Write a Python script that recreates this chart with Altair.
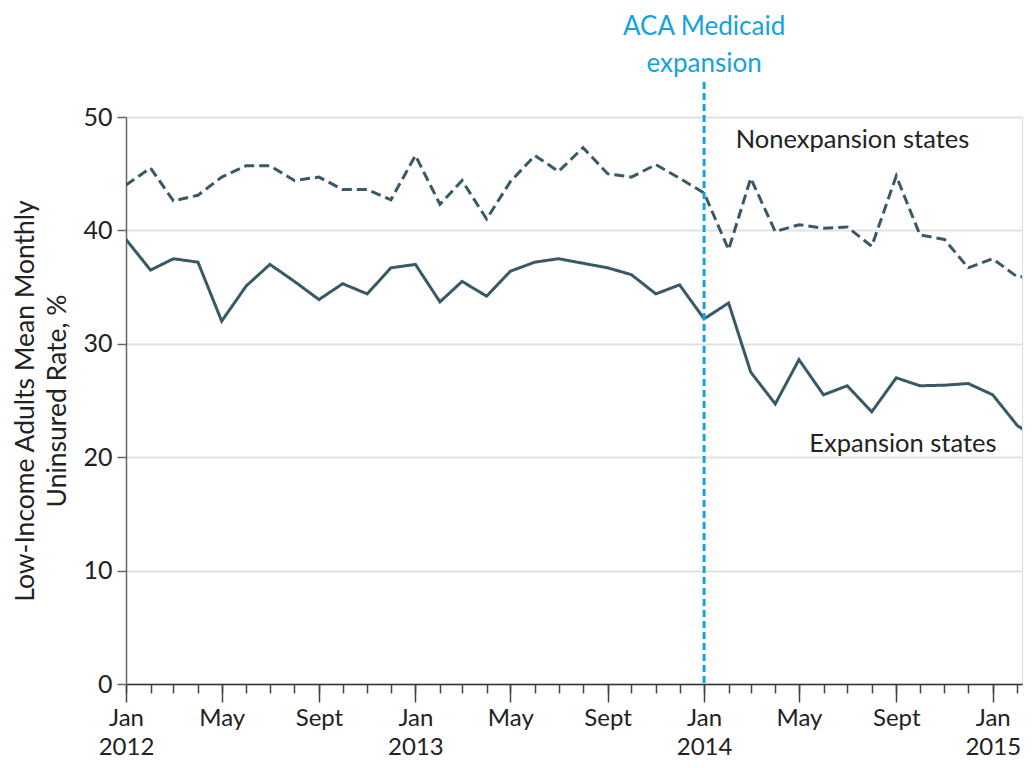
import altair as alt
import pandas as pd

# ---- data ----
months = [f"{y}-{m:02d}-01" for y in (2012, 2013, 2014, 2015) for m in range(1, 13)][:39]

nonexpansion = [44.0, 45.5, 42.6, 43.1, 44.7, 45.7, 45.7, 44.4, 44.7, 43.6, 43.6, 42.7,
                46.6, 42.3, 44.4, 41.0, 44.3, 46.6, 45.2, 47.3, 45.0, 44.7, 45.8, 44.6,
                43.3, 38.3, 44.6, 39.9, 40.5, 40.2, 40.3, 38.6, 44.8, 39.6, 39.2, 36.7,
                37.5, 35.9, 36.0]
expansion = [39.2, 36.5, 37.5, 37.2, 32.0, 35.1, 37.0, 35.5, 33.9, 35.3, 34.4, 36.7,
             37.0, 33.7, 35.5, 34.2, 36.4, 37.2, 37.5, 37.1, 36.7, 36.1, 34.4, 35.2,
             32.2, 33.6, 27.5, 24.7, 28.6, 25.5, 26.3, 24.0, 27.0, 26.3, 26.35, 26.5,
             25.5, 22.8, 21.5]
series_names = ["Nonexpansion states", "Expansion states"]

policy_date = ["2014-01-01"]
policy_label = ["ACA Medicaid\nexpansion"]

label_dates = ["2014-02-10", "2014-05-14"]
label_values = [48.0, 21.2]
label_texts = ["Nonexpansion states", "Expansion states"]

LINE = "#3a5966"
BLUE = "#14a2e0"
FONT = "Lato"

df = pd.DataFrame({
    "date": months * 2,
    "value": nonexpansion + expansion,
    "series": [series_names[0]] * len(months) + [series_names[1]] * len(months),
})

def dt(y, m, d=1):
    return alt.DateTime(year=y, month=m, date=d, utc=True)

xscale = alt.Scale(type="utc", domain=[dt(2012, 1, 1), dt(2015, 2, 7)])

major_vals = [dt(y, m) for y in (2012, 2013, 2014, 2015) for m in (1, 5, 9)
              if not (y == 2015 and m > 1)]
minor_vals = [dt(y, m) for y in (2012, 2013, 2014, 2015) for m in range(1, 13)
              if not (y == 2015 and m > 2)]

major_axis = alt.Axis(
    orient="bottom", values=major_vals, tickSize=18, tickColor="#444", tickWidth=1.5,
    domainColor="#333", domainWidth=1.5, grid=False, title=None,
    labelExpr="utcmonth(datum.value) == 0 ? ['Jan', '' + utcyear(datum.value)] : (utcmonth(datum.value) == 4 ? 'May' : 'Sept')",
    labelFontSize=24, labelColor="#222", labelPadding=4, labelLineHeight=29,
    labelFlush=False, labelOverlap=False, labelBound=False, labelFont=FONT,
)
minor_axis = alt.Axis(
    orient="bottom", values=minor_vals, tickSize=9, tickColor="#444", tickWidth=1.5,
    domain=False, labels=False, grid=False, title=None,
)
yaxis = alt.Axis(
    values=[0, 10, 20, 30, 40, 50], tickSize=9, tickColor="#666", tickWidth=1.5,
    domainColor="#666", domainWidth=1.5, grid=True, gridColor="#e2e2e2", gridWidth=2,
    labelFontSize=25, labelColor="#222", labelPadding=5, labelFont=FONT,
    title=["Low-Income Adults Mean Monthly", "Uninsured Rate, %"],
    titleFontSize=26.5, titleFontWeight="normal", titleColor="#222", titleFont=FONT,
    titleLineHeight=32, titlePadding=11,
)

lines = alt.Chart(df).mark_line(strokeWidth=3, clip=True, color=LINE).encode(
    x=alt.X("date:T", scale=xscale, axis=major_axis),
    y=alt.Y("value:Q", scale=alt.Scale(domain=[0, 50]), axis=yaxis),
    strokeDash=alt.StrokeDash("series:N",
                              scale=alt.Scale(domain=series_names, range=[[10, 5], [1, 0]]),
                              legend=None),
    detail="series:N",
)

minor = alt.Chart(df).mark_point(opacity=0).encode(
    x=alt.X("date:T", axis=minor_axis),
)

pol = pd.DataFrame({"date": policy_date, "label": policy_label})
rule = alt.Chart(pol).mark_rule(color=BLUE, strokeWidth=3, strokeDash=[7, 4]).encode(
    x=alt.X("date:T", axis=None),
    y=alt.value(-35),
    y2=alt.value(567),
)
pol_text = alt.Chart(pol).mark_text(
    color=BLUE, fontSize=26, font=FONT, lineBreak="\n", lineHeight=37,
    align="center", baseline="middle",
).encode(
    x=alt.X("date:T", axis=None),
    y=alt.value(-90),
    text="label:N",
)

lab = pd.DataFrame({"date": label_dates, "value": label_values, "label": label_texts})
labels = alt.Chart(lab).mark_text(
    color="#222", fontSize=25.5, font=FONT, align="left", baseline="middle",
).encode(
    x=alt.X("date:T", axis=None),
    y=alt.Y("value:Q"),
    text="label:N",
)

chart = alt.layer(lines, minor, rule, pol_text, labels).resolve_axis(
    x="independent"
).properties(
    width=896, height=567,
    autosize=alt.AutoSizeParams(type="none"),
    padding={"left": 118, "top": 109, "right": 2, "bottom": 76},
    background="white",
).configure_view(stroke=None).configure(font=FONT)

chart.save("out.html", embed_options={"renderer": "svg", "actions": False})
